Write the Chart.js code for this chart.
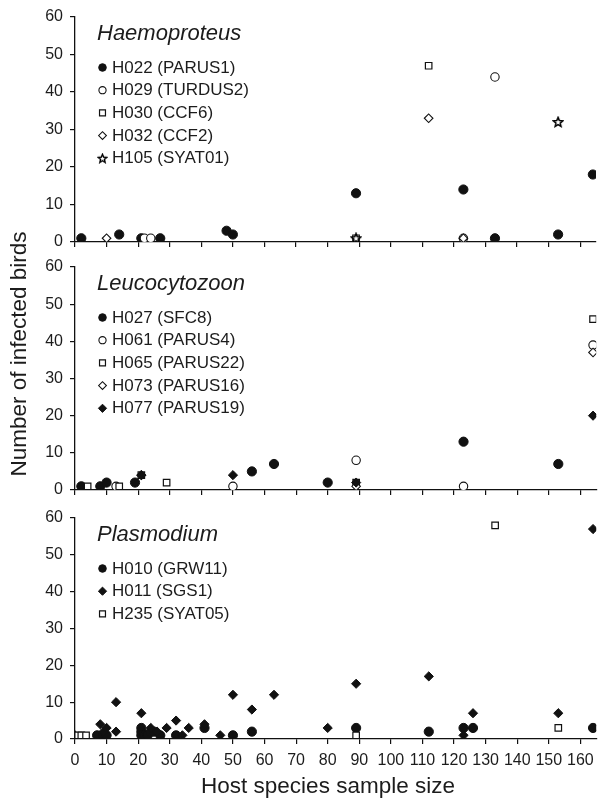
<!DOCTYPE html>
<html><head><meta charset="utf-8">
<script src="https://cdn.jsdelivr.net/npm/chart.js@4.4.1/dist/chart.umd.min.js"></script>
<style>
html,body{margin:0;padding:0;background:#fff;}
#wrap{position:relative;width:602px;height:799px;overflow:hidden;}
canvas{position:absolute;left:0;top:0;}
</style></head><body>
<div id="wrap">
<canvas id="c1" width="602" height="799"></canvas>
<canvas id="c2" width="602" height="799"></canvas>
<canvas id="c3" width="602" height="799"></canvas>
</div>
<script>
// ---------- tick labels ----------
const xTicks = [0,10,20,30,40,50,60,70,80,90,100,110,120,130,140,150,160];
const yTicks = [0,10,20,30,40,50,60];
const xTitle = 'Host species sample size';
const yTitle = 'Number of infected birds';

// ---------- Haemoproteus ----------
const haemoTitle = 'Haemoproteus';
const haemoLabels = ['H022 (PARUS1)','H029 (TURDUS2)','H030 (CCF6)','H032 (CCF2)','H105 (SYAT01)'];
const h022x = [2,14,21,27,48,50,89,123,133,153,164];
const h022y = [1,2,1,1,3,2,13,14,1,2,18];
const h029x = [22,24,123,133];
const h029y = [1,1,1,44];
const h030x = [89,112];
const h030y = [1,47];
const h032x = [10,112,123];
const h032y = [1,33,1];
const h105x = [89,153];
const h105y = [1,32];

// ---------- Leucocytozoon ----------
const leucoTitle = 'Leucocytozoon';
const leucoLabels = ['H027 (SFC8)','H061 (PARUS4)','H065 (PARUS22)','H073 (PARUS16)','H077 (PARUS19)'];
const h027x = [2,8,10,19,56,63,80,123,153];
const h027y = [1,1,2,2,5,7,2,13,7];
const h061x = [13,50,89,123,164];
const h061y = [1,1,8,1,39];
const h065x = [4,14,21,29,89,164];
const h065y = [1,1,4,2,2,46];
const h073x = [21,89,164];
const h073y = [4,1,37];
const h077x = [21,50,89,164];
const h077y = [4,4,2,20];

// ---------- Plasmodium ----------
const plasTitle = 'Plasmodium';
const plasLabels = ['H010 (GRW11)','H011 (SGS1)','H235 (SYAT05)'];
const h010x = [7,9,10,21,21,21,22,23,24,25,27,32,41,50,56,89,112,123,126,164];
const h010y = [1,1,1,3,2,1,1,1,2,2,1,1,3,1,2,3,2,3,3,3];
const h011x = [0,8,9,10,13,13,21,24,26,29,32,34,36,41,46,50,56,63,80,89,112,123,126,153,164];
const h011y = [1,4,2,3,10,2,7,3,2,3,5,1,3,4,1,12,8,12,3,15,17,1,7,7,57];
const h235x = [1,2,3.5,89,133,153];
const h235y = [1,1,1,1,58,3];

// ---------- styling ----------
const FONT = "'Liberation Sans', Arial, Helvetica, sans-serif";
const INK = '#111';
const TXT = '#1c1c1c';
Chart.defaults.font.family = FONT;
Chart.defaults.color = TXT;

function makeStar(size, lw){
  const c = document.createElement('canvas');
  c.width = size; c.height = size;
  const g = c.getContext('2d');
  const cx = size/2, cy = size/2 + 0.4, R = size/2 - 1, r = R*0.45;
  g.beginPath();
  for (let i = 0; i < 10; i++) {
    const a = -Math.PI/2 + i*Math.PI/5;
    const rr = (i % 2) ? r : R;
    g.lineTo(cx + rr*Math.cos(a), cy + rr*Math.sin(a));
  }
  g.closePath();
  g.fillStyle = '#fff'; g.fill();
  g.lineWidth = lw; g.strokeStyle = '#000'; g.stroke();
  return c;
}
const starImg = makeStar(12, 1.5);
const starImgSmall = makeStar(11, 1.4);

const STY = {
  dot:   {pointStyle:'circle',  backgroundColor:INK,    borderColor:INK, pointRadius:4.6, borderWidth:1, legendRadius:3.8},
  ring:  {pointStyle:'circle',  backgroundColor:'#fff', borderColor:INK, pointRadius:4.2, borderWidth:1.1, legendRadius:3.6},
  box:   {pointStyle:'rect',    backgroundColor:'#fff', borderColor:INK, pointRadius:4.6, borderWidth:1.2, legendRadius:4.2},
  dia:   {pointStyle:'rectRot', backgroundColor:'#fff', borderColor:INK, pointRadius:4.3, borderWidth:1.1, legendRadius:3.9},
  fdia:  {pointStyle:'rectRot', backgroundColor:INK,    borderColor:INK, pointRadius:4.6, borderWidth:1, legendRadius:4.1},
  star:  {pointStyle:starImg,   backgroundColor:'#fff', borderColor:INK, pointRadius:5, borderWidth:1, legendRadius:5, legendStyle:starImgSmall}
};

function series(label, xs, ys, sty, idx, n){
  return Object.assign({
    label: label,
    data: xs.map((x, i) => ({x: x, y: ys[i]})),
    order: n - idx,
    pointHoverRadius: 0
  }, sty);
}

const innerLegend = {
  id: 'innerLegend',
  afterDraw(chart, args, o) {
    const ctx = chart.ctx;
    const top = chart.chartArea.top;
    ctx.save();
    ctx.fillStyle = TXT;
    ctx.textBaseline = 'middle';
    ctx.textAlign = 'left';
    ctx.font = 'italic 22px ' + FONT;
    ctx.fillText(o.title, o.titleX, top + o.titleDy);
    ctx.font = '17px ' + FONT;
    chart.data.datasets.forEach((ds, i) => {
      const y = top + o.rowDy + i*o.rowGap;
      ctx.save();
      ctx.fillStyle = ds.backgroundColor;
      ctx.strokeStyle = ds.borderColor;
      ctx.lineWidth = ds.borderWidth;
      Chart.helpers.drawPoint(ctx, {
        pointStyle: ds.legendStyle || ds.pointStyle,
        radius: ds.legendRadius,
        borderWidth: ds.borderWidth,
        rotation: 0
      }, o.markerX, y);
      ctx.restore();
      ctx.fillStyle = TXT;
      ctx.fillText(ds.label, o.textX, y + 0.5);
    });
    ctx.restore();
  }
};

const axisTitles = {
  id: 'axisTitles',
  afterDraw(chart, args, o) {
    if (!o) return;
    const ctx = chart.ctx;
    ctx.save();
    ctx.fillStyle = TXT;
    ctx.font = '22.5px ' + FONT;
    ctx.textAlign = 'center';
    ctx.textBaseline = 'middle';
    if (o.y) {
      ctx.save();
      ctx.translate(o.y.x, o.y.y);
      ctx.rotate(-Math.PI/2);
      ctx.fillText(o.y.text, 0, 0);
      ctx.restore();
    }
    if (o.x) {
      ctx.fillText(o.x.text, o.x.x, o.x.y);
    }
    ctx.restore();
  }
};

function makeChart(id, datasets, area, title, showX, titles) {
  return new Chart(document.getElementById(id), {
    type: 'scatter',
    data: {datasets: datasets},
    options: {
      responsive: false,
      animation: false,
      events: [],
      layout: {padding: {left: 0, right: 3, top: area.top, bottom: area.padBottom}},
      plugins: {
        legend: {display: false},
        tooltip: {enabled: false},
        innerLegend: {title: title, titleX: 97, titleDy: 17, markerX: 102.5, textX: 112, rowDy: 50.5, rowGap: 22.7},
        axisTitles: titles || {}
      },
      scales: {
        x: {
          type: 'linear', min: 0, max: 165,
          afterBuildTicks: s => { s.ticks = xTicks.map(v => ({value: v})); },
          afterFit: s => { s.height = area.xh; },
          ticks: {display: showX, autoSkip: false, maxRotation: 0, padding: 7, color: TXT, font: {size: 16}},
          grid: {drawOnChartArea: false, drawTicks: true, tickLength: 5, color: INK, lineWidth: 1.2},
          border: {display: true, color: INK, width: 1.3}
        },
        y: {
          type: 'linear', min: 0, max: 60,
          afterBuildTicks: s => { s.ticks = yTicks.map(v => ({value: v})); },
          afterFit: s => { s.width = 75; },
          ticks: {padding: 7, color: TXT, font: {size: 16}},
          grid: {drawOnChartArea: false, drawTicks: true, tickLength: 5, color: INK, lineWidth: 1.2},
          border: {display: true, color: INK, width: 1.3}
        }
      }
    },
    plugins: [innerLegend, axisTitles]
  });
}

makeChart('c1', [
  series(haemoLabels[0], h022x, h022y, STY.dot, 0, 5),
  series(haemoLabels[1], h029x, h029y, STY.ring, 1, 5),
  series(haemoLabels[2], h030x, h030y, STY.box, 2, 5),
  series(haemoLabels[3], h032x, h032y, STY.dia, 3, 5),
  series(haemoLabels[4], h105x, h105y, STY.star, 4, 5)
], {top: 17, padBottom: 799 - 242 - 8, xh: 8}, haemoTitle, false);

makeChart('c2', [
  series(leucoLabels[0], h027x, h027y, STY.dot, 0, 5),
  series(leucoLabels[1], h061x, h061y, STY.ring, 1, 5),
  series(leucoLabels[2], h065x, h065y, STY.box, 2, 5),
  series(leucoLabels[3], h073x, h073y, STY.dia, 3, 5),
  series(leucoLabels[4], h077x, h077y, STY.fdia, 4, 5)
], {top: 267, padBottom: 799 - 490 - 8, xh: 8}, leucoTitle, false,
   {y: {text: yTitle, x: 20, y: 354}});

makeChart('c3', [
  series(plasLabels[0], h010x, h010y, STY.dot, 0, 3),
  series(plasLabels[1], h011x, h011y, STY.fdia, 1, 3),
  series(plasLabels[2], h235x, h235y, STY.box, 2, 3)
], {top: 518, padBottom: 0, xh: 60}, plasTitle, true,
   {x: {text: xTitle, x: 328, y: 787}});
</script>
</body></html>
